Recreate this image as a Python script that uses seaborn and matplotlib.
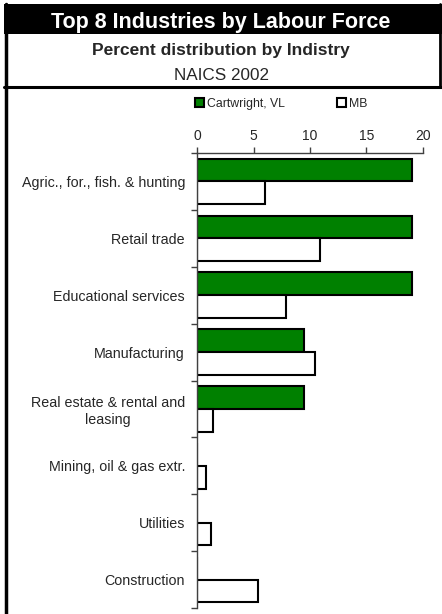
import matplotlib
matplotlib.use("Agg")
import matplotlib.pyplot as plt
import seaborn as sns
import pandas as pd
from matplotlib.patches import Rectangle
from matplotlib.lines import Line2D

industries = ["Agric., for., fish. & hunting", "Retail trade", "Educational services",
              "Manufacturing", "Real estate & rental and\nleasing", "Mining, oil & gas extr.",
              "Utilities", "Construction"]
cartwright = [19.0, 19.0, 19.0, 9.5, 9.5, 0.0, 0.0, 0.0]
mb = [6.0, 10.9, 7.9, 10.4, 1.4, 0.8, 1.2, 5.4]
series = ["Cartwright, VL", "MB"]
x_ticks = [0, 5, 10, 15, 20]

df = pd.DataFrame({
    "industry": industries * 2,
    "value": cartwright + mb,
    "region": [series[0]] * len(industries) + [series[1]] * len(industries),
})

sns.set_style("white")
plt.rcParams["font.family"] = ["Liberation Sans", "DejaVu Sans"]

W, H = 442, 614
fig = plt.figure(figsize=(W / 100, H / 100), dpi=100)


def fy(y):
    return 1 - y / H


# header frame
fig.add_artist(Rectangle((4 / W, fy(34)), 1 - 4 / W, 30 / H, transform=fig.transFigure,
                         facecolor="black", edgecolor="none"))
fig.add_artist(Line2D([4 / W, 1], [fy(86.5), fy(86.5)], transform=fig.transFigure, color="black", lw=2.2))
fig.add_artist(Line2D([5.5 / W, 5.5 / W], [fy(4), 0], transform=fig.transFigure, color="black", lw=2.5))
fig.add_artist(Line2D([440 / W, 440 / W], [fy(4), fy(87)], transform=fig.transFigure, color="black", lw=2))
fig.text(0.5, fy(28), "Top 8 Industries by Labour Force", ha="center", va="baseline",
         color="white", fontsize=15.5, fontweight="bold")
fig.text(0.5, fy(55), "Percent distribution by Indistry", ha="center", va="baseline",
         fontsize=12.5, fontweight="bold")
fig.text(0.5, fy(80), "NAICS 2002", ha="center", va="baseline", fontsize=12.3)

ax = fig.add_axes([197 / W, fy(608), 226 / W, (608 - 153) / H])
sns.barplot(data=df, x="value", y="industry", hue="region", orient="h", ax=ax,
            palette=["#008000", "white"], edgecolor="black", linewidth=1.5, width=0.8,
            saturation=1)

ax.set_xlim(0, 20)
ax.set_ylim(7.5, -0.5)
ax.set_xticks(x_ticks)
ax.xaxis.tick_top()
ax.tick_params(axis="x", length=4, width=1, color="#404040", labelsize=10, pad=3, direction="out")
ax.set_yticks(range(len(industries)))
ax.set_yticklabels(industries, multialignment="center")
ax.set_yticks([i + 0.5 for i in range(-1, len(industries))], minor=True)
ax.tick_params(axis="y", which="major", length=0, labelsize=10.3, pad=8.6)
ax.tick_params(axis="y", which="minor", length=4, width=1, color="#404040", left=True)
ax.set_xlabel("")
ax.set_ylabel("")
for s in ["right", "bottom"]:
    ax.spines[s].set_visible(False)
for s in ["top", "left"]:
    ax.spines[s].set_color("#404040")
    ax.spines[s].set_linewidth(1)

ax.legend(loc="center left", bbox_to_anchor=(195 / W, fy(104)), bbox_transform=fig.transFigure,
          ncol=2, frameon=False, fontsize=8.8, handlelength=0.75, handleheight=0.75,
          handletextpad=0.2, columnspacing=4.3, borderaxespad=0, borderpad=0)

fig.savefig("out.png", dpi=100)
